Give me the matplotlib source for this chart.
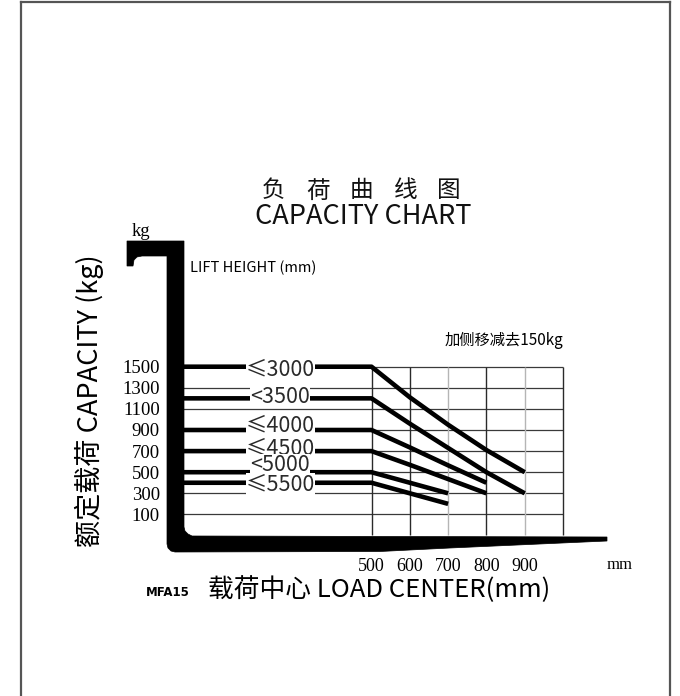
import matplotlib
matplotlib.use('Agg')
import matplotlib.pyplot as plt
from matplotlib.patches import Polygon
from matplotlib.lines import Line2D

plt.rcParams['font.family'] = ['Noto Sans CJK SC', 'DejaVu Sans']

W, H = 680, 696

# ---- data ----
lift_labels = ['≤3000', '<3500', '≤4000', '≤4500', '<5000', '≤5500']
load_centers = [500, 600, 700, 800, 900]
cap_3000 = [1500, 1210, 950, 710, 500]
cap_3500 = [1200, 960, 730, 500, 300]
cap_4000 = [900, 735, 565, 400]
cap_4500 = [700, 570, 435, 300]
cap_5000 = [500, 400, 300]
cap_5500 = [400, 300, 200]
capacities = [cap_3000, cap_3500, cap_4000, cap_4500, cap_5000, cap_5500]
y_ticks = [100, 300, 500, 700, 900, 1100, 1300, 1500]
x_ticks = [500, 600, 700, 800, 900]
x_grid = [500, 600, 700, 800, 900, 1000]

def fx(px):
    return px / W

def fy(py):
    return 1 - py / H

fig = plt.figure(figsize=(W / 100, H / 100), dpi=100)

# outer frame (left, top, right)
for xs, ys in [([21, 21], [1.5, 696]), ([21, 670], [1.5, 1.5]), ([670, 670], [1.5, 696])]:
    fig.add_artist(Line2D([fx(x) for x in xs], [fy(y) for y in ys],
                          transform=fig.transFigure, color='#555555', lw=1.6))

# main axes over the grid region
ax = fig.add_axes([fx(180), fy(535.5), 383 / W, (535.5 - 366.7) / H])
ax.set_xlim(0, 1000)
ax.set_ylim(-100, 1500)
for s in ax.spines.values():
    s.set_visible(False)
ax.set_facecolor('none')

# grid
ax.hlines(y_ticks, 0, 1000, colors='#3a3a3a', lw=0.9, zorder=1, clip_on=False)
for xg in x_grid:
    c = '#b5b5b5' if xg in (700, 900) else '#2a2a2a'
    ax.vlines(xg, -100, 1500, colors=c, lw=1.0, zorder=1, clip_on=False)

# ticks
ax.set_yticks(y_ticks)
ax.set_yticklabels([str(v) for v in y_ticks], family='Liberation Serif', fontsize=13.5)
ax.set_xticks(x_ticks)
ax.set_xticklabels([str(v) for v in x_ticks], family='Liberation Serif', fontsize=13)
ax.tick_params(axis='y', length=0, pad=14.5)
ax.tick_params(axis='x', length=0, pad=16)

# capacity curves
label_offsets = [-1.7, 0.9, 3.6, 2.2, 5.0, -0.9]
for lab, caps, off in zip(lift_labels, capacities, label_offsets):
    xs = [0] + load_centers[:len(caps)]
    ys = [caps[0]] + caps
    ax.plot(xs, ys, color='black', lw=3.3, solid_capstyle='butt',
            solid_joinstyle='round', zorder=3, clip_on=False)
    ax.annotate(lab, (262, caps[0]), xytext=(0, off), textcoords='offset points',
                ha='center', va='center', fontsize=15.5, color='#2a2a2a',
                fontweight='light', zorder=5,
                bbox=dict(fc='white', ec='none', pad=0.2))

# fork shape (decorative axis frame)
fork_px = [(127, 241), (184, 241), (184, 527), (185, 531), (188, 534), (192, 536),
           (607, 537), (607, 541), (450, 548), (380, 551.5), (175, 552),
           (171, 551), (168, 548), (167, 544), (167, 256), (142, 256),
           (137, 257), (134, 260), (133, 266), (127, 266)]
fork = Polygon([(fx(x), fy(y)) for x, y in fork_px], closed=True,
               transform=fig.transFigure, fc='black', ec='black', lw=0.5, zorder=6)
fig.add_artist(fork)

# texts
title_chars = ['负', '荷', '曲', '线', '图']
for i, ch in enumerate(title_chars):
    fig.text(fx(274 + 43.75 * i), fy(191), ch, ha='center', va='center',
             fontsize=17, color='#111111')
fig.text(fx(363), fy(217), 'CAPACITY CHART', ha='center', va='center',
         fontsize=19.5, color='#111111')
fig.text(fx(141), fy(232), 'kg', ha='center', va='center',
         family='Liberation Serif', fontsize=13.5)
fig.text(fx(190), fy(268), 'LIFT HEIGHT (mm)', ha='left', va='center',
         fontsize=10.5)
fig.text(fx(563), fy(340), '加侧移减去150kg', ha='right', va='center',
         fontsize=11)
fig.text(fx(89), fy(401), '额定载荷 CAPACITY (kg)', ha='center', va='center',
         rotation=90, fontsize=19.5)
fig.text(fx(620), fy(565), 'mm', ha='center', va='center',
         family='Liberation Serif', fontsize=12)
fig.text(fx(168), fy(592), 'MFA15', ha='center', va='center',
         fontsize=8.5, fontweight='bold', family='DejaVu Sans')
fig.text(fx(208), fy(590), '载荷中心 LOAD CENTER(mm)', ha='left', va='center',
         fontsize=18.5)

fig.savefig('out.png', dpi=100)
